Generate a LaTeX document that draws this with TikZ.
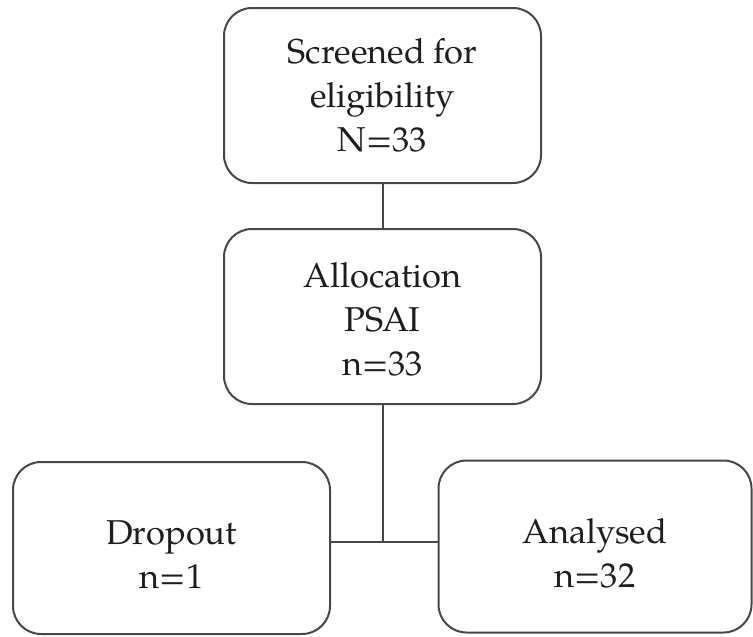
\documentclass[tikz,border=0pt]{standalone}
\usepackage{fontspec}
\setmainfont{TeX Gyre Pagella}
\definecolor{edge}{HTML}{474747}
\definecolor{ink}{HTML}{1E1E1E}
% a taller first line pushes the two-line labels slightly down
\newcommand{\lowerlabel}{\rule{0pt}{38pt}}
\begin{document}
\begin{tikzpicture}[x=1pt,y=-1pt,
  flowbox/.style={draw=edge, line width=2pt, rounded corners=28pt,
    minimum width=317pt, minimum height=175pt, align=center,
    text=ink, inner sep=0pt,
    font=\fontsize{34.5}{44}\selectfont},
  link/.style={draw=edge, line width=2pt}]
  \useasboundingbox (0,0) rectangle (753,637);

  \node[flowbox] (screen) at (382.5,95.5) {Screened for\\eligibility\\N=33};
  \node[flowbox] (alloc) at (382.5,316.5) {\rule{0pt}{30pt}Allocation\\PSAI\\n=33};
  \node[flowbox, minimum height=172pt] (drop) at (171.5,548) {\lowerlabel Dropout\\n=1};
  \node[flowbox, minimum width=313pt, minimum height=172pt] (anal) at (595,546.5) {\lowerlabel Analysed\\n=32};

  \coordinate (split) at (382.5,542);
  \draw[link] (screen.south) -- (alloc.north);
  \draw[link] (alloc.south) -- (split);
  \draw[link] (drop.east |- split) -- (anal.west |- split);
\end{tikzpicture}
\end{document}
